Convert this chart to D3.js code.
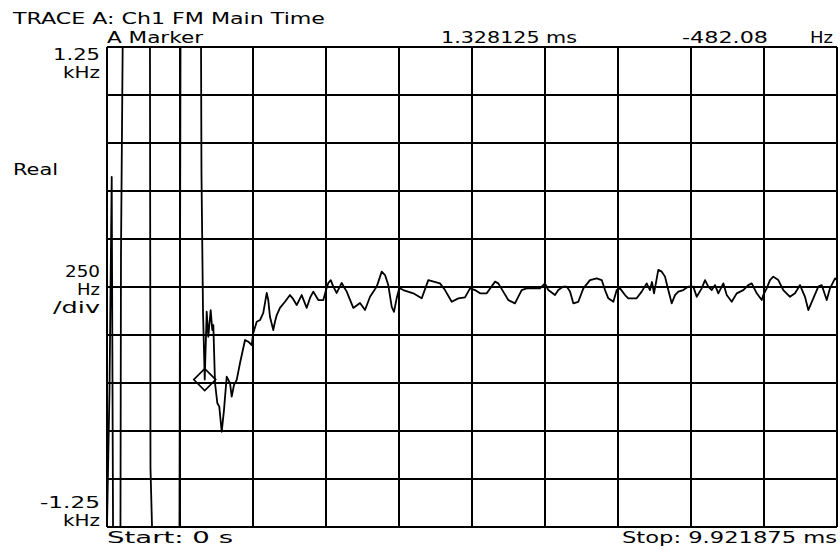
<!DOCTYPE html>
<html lang="en">

<head>
    <meta charset="UTF-8">
    <title>Trace A</title>
    <script src="https://cdn.jsdelivr.net/npm/d3@7"></script>
    <style>
        body {
            margin: 0;
            background: #fff;
        }

        text {
            font-family: "DejaVu Sans", sans-serif;
            font-size: 16px;
            fill: #000;
        }

        .grid {
            stroke: #000;
            stroke-width: 2px;
        }

        .trace {
            fill: none;
            stroke: #000;
            stroke-width: 1.8px;
            stroke-linejoin: round;
        }
    </style>
</head>

<body>
    <div id="chartArea"></div>
    <script>
        // sweep: 0 .. 9.921875 ms, 10 divisions; +/-1.25 kHz, 250 Hz/div
        const stopMs = 9.921875;
        const fullScaleHz = 1250;
        const markerMs = 1.328125;
        const markerHz = -482.08;

        // trace vertices (values beyond +/-1250 are off-scale)
        const timeMs = [
            0.000, 0.034, 0.064, 0.082, 0.183, 0.190, 0.213, 0.584, 0.591, 0.612,
            0.985, 0.999, 1.278, 1.284, 1.305, 1.328125, 1.355, 1.377, 1.409, 1.431,
            1.445, 1.468, 1.499, 1.526, 1.559, 1.590, 1.627, 1.649, 1.672, 1.695,
            1.726, 1.763, 1.808, 1.876, 1.920, 1.967, 1.988, 2.035, 2.080, 2.124,
            2.171, 2.192, 2.215, 2.260, 2.283, 2.307, 2.351, 2.419, 2.487, 2.524,
            2.578, 2.646, 2.714, 2.759, 2.804, 2.872, 2.940, 2.977, 3.008, 3.041,
            3.076, 3.122, 3.190, 3.258, 3.348, 3.439, 3.507, 3.575, 3.666, 3.734,
            3.779, 3.823, 3.870, 3.901, 3.938, 3.973, 4.027, 4.163, 4.277, 4.367,
            4.526, 4.594, 4.685, 4.775, 4.866, 4.934, 5.002, 5.070, 5.161, 5.274,
            5.318, 5.386, 5.454, 5.545, 5.636, 5.704, 5.885, 5.953, 5.998, 6.089,
            6.134, 6.202, 6.248, 6.293, 6.338, 6.406, 6.474, 6.565, 6.656, 6.724,
            6.769, 6.814, 6.882, 6.928, 6.973, 7.041, 7.085, 7.199, 7.267, 7.335,
            7.380, 7.407, 7.435, 7.493, 7.540, 7.584, 7.629, 7.675, 7.720, 7.765,
            7.833, 7.901, 7.969, 8.015, 8.083, 8.128, 8.173, 8.219, 8.264, 8.309,
            8.377, 8.423, 8.491, 8.559, 8.648, 8.716, 8.763, 8.831, 8.899, 8.920,
            8.966, 9.011, 9.056, 9.124, 9.192, 9.283, 9.351, 9.419, 9.487, 9.532,
            9.600, 9.668, 9.714, 9.782, 9.827, 9.895, 9.922
        ];
        const realHz = [
            -1600, -536, 573, -1600, -1600, 167, 1600, 1600, -943, -1600,
            -1600, 1600, 1600, 594, -130, -482.08, -129, -259, -120, -224,
            -198, -500, -604, -623, -754, -641, -467, -484, -500, -571,
            -510, -484, -396, -276, -285, -302, -240, -181, -172, -135,
            -31, -68, -155, -224, -181, -146, -109, -77, -42, -59,
            -94, -42, -109, -57, -24, -68, -68, -16, 21, 36,
            2, -31, 21, -24, -109, -83, -120, -51, 2, 80,
            62, 10, -103, -129, -57, -5, -16, -33, -59, 36,
            19, -16, -77, -59, -54, -7, -16, -33, -33, 28,
            19, -24, -68, -85, -16, -7, -7, 19, -16, -42,
            -16, 2, 2, -24, -85, -77, -7, 36, 45, 36,
            -16, -59, -77, -16, -7, -42, -59, -59, -24, 19,
            -16, 26, -33, 89, 80, 54, -16, -85, -42, -24,
            -16, 2, 2, -51, -7, 36, 2, -16, 10, -33,
            19, -42, -77, -33, -16, 10, 19, -33, -68, -42,
            -7, 36, 54, 36, -16, -51, -33, 10, -51, -120,
            -59, 2, 10, -68, -7, 45, 36
        ];

        const W = 840, H = 550;
        const plot = { left: 107, right: 837, top: 47, bottom: 527 };

        const svg = d3.select('#chartArea').append('svg')
            .attr('width', W)
            .attr('height', H);

        const xScale = d3.scaleLinear()
            .domain([0, stopMs])
            .range([plot.left, plot.right]);

        // the analyzer pins off-scale values to the graticule edge
        const yScale = d3.scaleLinear()
            .domain([-fullScaleHz, fullScaleHz])
            .range([plot.bottom, plot.top])
            .clamp(true);

        const divs = d3.range(0, 11);

        svg.append('g').selectAll('line')
            .data(divs)
            .enter()
            .append('line')
            .attr('class', 'grid')
            .attr('x1', i => xScale(i * stopMs / 10))
            .attr('x2', i => xScale(i * stopMs / 10))
            .attr('y1', plot.top)
            .attr('y2', plot.bottom);

        svg.append('g').selectAll('line')
            .data(divs)
            .enter()
            .append('line')
            .attr('class', 'grid')
            .attr('y1', i => yScale(-fullScaleHz + i * fullScaleHz / 5))
            .attr('y2', i => yScale(-fullScaleHz + i * fullScaleHz / 5))
            .attr('x1', plot.left)
            .attr('x2', plot.right);

        const points = timeMs.map((t, i) => [t, realHz[i]]);
        const line = d3.line()
            .x(d => xScale(d[0]))
            .y(d => yScale(d[1]));

        svg.append('path')
            .datum(points)
            .attr('class', 'trace')
            .attr('d', line);

        // marker diamond
        const mx = xScale(markerMs), my = yScale(markerHz), r = 11;
        svg.append('path')
            .attr('d', `M${mx - r},${my}L${mx},${my - r}L${mx + r},${my}L${mx},${my + r}Z`)
            .attr('fill', 'none')
            .attr('stroke', '#000')
            .attr('stroke-width', 1.6);

        // texts: [string, x, y, anchor, width]
        const labels = [
            ['TRACE A: Ch1 FM Main Time', 13, 24, 'start', 312],
            ['A Marker', 107, 43, 'start', 96],
            ['1.328125 ms', 441, 43, 'start', 136],
            ['-482.08', 682, 43, 'start', 86],
            ['Hz', 810, 43, 'start', 23],
            ['1.25', 100, 60, 'end', 47],
            ['kHz', 100, 78, 'end', 37],
            ['Real', 13, 175, 'start', 45],
            ['250', 100, 277, 'end', 35],
            ['Hz', 100, 295, 'end', 23],
            ['/div', 100, 313, 'end', 47],
            ['-1.25', 100, 508, 'end', 60],
            ['kHz', 100, 526, 'end', 37],
            ['Start: 0 s', 107, 543, 'start', 126],
            ['Stop: 9.921875 ms', 622, 543, 'start', 215]
        ];

        svg.append('g').selectAll('text')
            .data(labels)
            .enter()
            .append('text')
            .attr('x', d => d[1])
            .attr('y', d => d[2])
            .attr('text-anchor', d => d[3])
            .attr('textLength', d => d[4])
            .attr('lengthAdjust', 'spacingAndGlyphs')
            .text(d => d[0]);
    </script>

</body>

</html>
